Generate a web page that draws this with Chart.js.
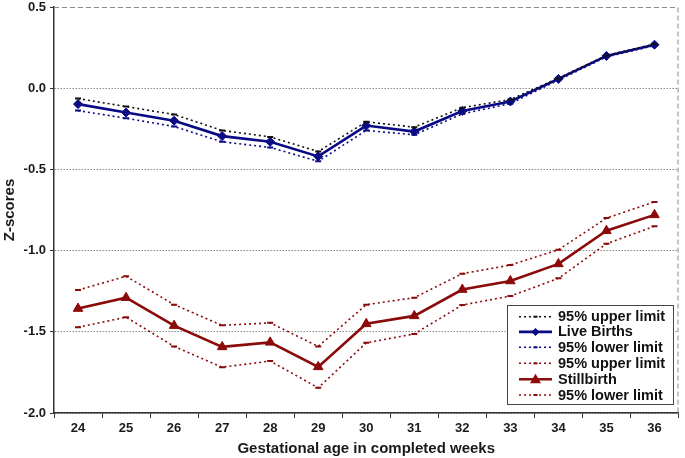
<!DOCTYPE html>
<html>
<head>
<meta charset="utf-8">
<script src="https://cdn.jsdelivr.net/npm/chart.js@4/dist/chart.umd.min.js"></script>
<style>
html,body{margin:0;padding:0;background:#fff;}
#wrap{width:685px;height:458px;position:relative;}
</style>
</head>
<body>
<div id="wrap"><canvas id="c" width="685" height="458"></canvas></div>
<script>
const weeks = ['24','25','26','27','28','29','30','31','32','33','34','35','36'];
const lbUpper = [-0.064,-0.113,-0.162,-0.26,-0.30,-0.39,-0.207,-0.24,-0.12,-0.07,0.062,0.202,0.272];
const lbMean  = [-0.098,-0.15,-0.20,-0.295,-0.33,-0.42,-0.23,-0.267,-0.14,-0.082,0.057,0.199,0.268];
const lbLower = [-0.138,-0.185,-0.236,-0.33,-0.365,-0.45,-0.26,-0.287,-0.158,-0.095,0.05,0.193,0.262];
const sbUpper = [-1.243,-1.158,-1.333,-1.46,-1.445,-1.59,-1.333,-1.29,-1.142,-1.089,-0.995,-0.80,-0.70];
const sbMean  = [-1.357,-1.29,-1.462,-1.593,-1.565,-1.716,-1.451,-1.402,-1.24,-1.187,-1.082,-0.878,-0.78];
const sbLower = [-1.472,-1.41,-1.59,-1.718,-1.68,-1.845,-1.568,-1.513,-1.335,-1.28,-1.171,-0.958,-0.85];
const yTicks = [-2.0,-1.5,-1.0,-0.5,0.0,0.5];

const NAVY = '#0a0a85';
const DRED = '#8b0a0a';
const FONT = '"Liberation Sans", Arial, sans-serif';

function limitSet(label, data, color) {
  return {label, data, borderColor: color, backgroundColor: color, borderWidth: 1.6,
    borderDash: [2,3], pointStyle: 'line', pointRadius: 3, pointBorderWidth: 2,
    pointBorderColor: color, tension: 0, fill: false};
}
function mainSet(label, data, color, style, r) {
  return {label, data, borderColor: color, backgroundColor: color, borderWidth: 2.6,
    pointStyle: style, pointRadius: r, pointBorderWidth: 1, pointBorderColor: color,
    tension: 0, fill: false};
}

const datasets = [
  limitSet('95% upper limit', lbUpper, '#111111'),
  mainSet('Live Births', lbMean, NAVY, 'rectRot', 4.5),
  limitSet('95% lower limit', lbLower, NAVY),
  limitSet('95% upper limit', sbUpper, DRED),
  mainSet('Stillbirth', sbMean, DRED, 'triangle', 5.5),
  limitSet('95% lower limit', sbLower, DRED)
];

const framePlugin = {
  id: 'frame',
  afterDraw(chart) {
    const {ctx, chartArea: a} = chart;
    ctx.save();
    ctx.strokeStyle = '#8a8a8a';
    ctx.lineWidth = 1;
    ctx.setLineDash([5,3]);
    ctx.beginPath();
    ctx.moveTo(a.left, a.top + 0.5);
    ctx.lineTo(a.right - 0.5, a.top + 0.5);
    ctx.lineTo(a.right - 0.5, a.bottom);
    ctx.stroke();
    ctx.setLineDash([]);
    const bx = 507, by = 305, bw = 166, bh = 99;
    ctx.fillStyle = '#fff';
    ctx.fillRect(bx, by, bw, bh);
    ctx.strokeStyle = '#444';
    ctx.lineWidth = 1;
    ctx.strokeRect(bx + 0.5, by + 0.5, bw, bh);
    const rows = [316.7, 331.9, 347.3, 363.3, 379.3, 395];
    chart.data.datasets.forEach((ds, i) => {
      const y = rows[i];
      ctx.strokeStyle = ds.borderColor;
      ctx.lineWidth = ds.borderWidth;
      ctx.setLineDash(ds.borderDash || []);
      ctx.beginPath();
      ctx.moveTo(519, y);
      ctx.lineTo(552, y);
      ctx.stroke();
      ctx.setLineDash([]);
      ctx.fillStyle = ds.borderColor;
      if (ds.pointStyle === 'rectRot') {
        ctx.beginPath();
        ctx.moveTo(535.5, y - 4); ctx.lineTo(539.5, y); ctx.lineTo(535.5, y + 4); ctx.lineTo(531.5, y);
        ctx.closePath(); ctx.fill();
      } else if (ds.pointStyle === 'triangle') {
        ctx.beginPath();
        ctx.moveTo(535.5, y - 5.5); ctx.lineTo(541, y + 4); ctx.lineTo(530, y + 4);
        ctx.closePath(); ctx.fill();
      } else {
        ctx.fillRect(533.5, y - 1, 4, 2);
      }
      ctx.fillStyle = '#111';
      ctx.font = 'bold 14.5px ' + FONT;
      ctx.textBaseline = 'middle';
      ctx.textAlign = 'left';
      ctx.fillText(ds.label, 558, y + 0.5);
    });
    ctx.restore();
  }
};

new Chart(document.getElementById('c'), {
  type: 'line',
  data: { labels: weeks, datasets },
  options: {
    responsive: false,
    animation: false,
    devicePixelRatio: 1,
    layout: { padding: { top: 7, right: 1, left: 0, bottom: 0 } },
    plugins: { legend: { display: false }, tooltip: { enabled: false } },
    scales: {
      x: {
        type: 'category',
        offset: true,
        grid: { offset: true, drawOnChartArea: false, drawTicks: true, tickLength: 5, color: '#333', lineWidth: 1 },
        border: { display: true, color: '#333', width: 1.5 },
        ticks: { color: '#1a1a1a', font: { family: FONT, size: 13, weight: 'bold' }, padding: 3, maxRotation: 0, autoSkip: false },
        title: { display: true, text: 'Gestational age in completed weeks', color: '#1a1a1a',
          font: { family: FONT, size: 15, weight: 'bold' }, padding: { top: 0, bottom: 0 } },
        afterFit(s) { s.height = 45; s.paddingLeft = 0; s.paddingRight = 0; }
      },
      y: {
        min: -2, max: 0.5,
        afterBuildTicks(s) { s.ticks = yTicks.map(v => ({ value: v })); },
        grid: {
          color: (c) => (c.tick && c.tick.value === 0.5) ? 'rgba(0,0,0,0)' : '#8a8a8a',
          lineWidth: 1, drawTicks: true, tickLength: 4, tickColor: '#333', tickWidth: 1
        },
        border: { display: true, color: '#333', width: 1.5, dash: [1.5,1.5] },
        ticks: { color: '#1a1a1a', font: { family: FONT, size: 13, weight: 'bold' }, padding: 4,
          callback: (v) => Number(v).toFixed(1) },
        title: { display: true, text: 'Z-scores', color: '#1a1a1a',
          font: { family: FONT, size: 15, weight: 'bold' }, padding: { top: 1, bottom: 0 } },
        afterFit(s) { s.width = 54; s.paddingTop = 0; s.paddingBottom = 0; }
      }
    }
  },
  plugins: [framePlugin]
});
</script>
</body>
</html>
